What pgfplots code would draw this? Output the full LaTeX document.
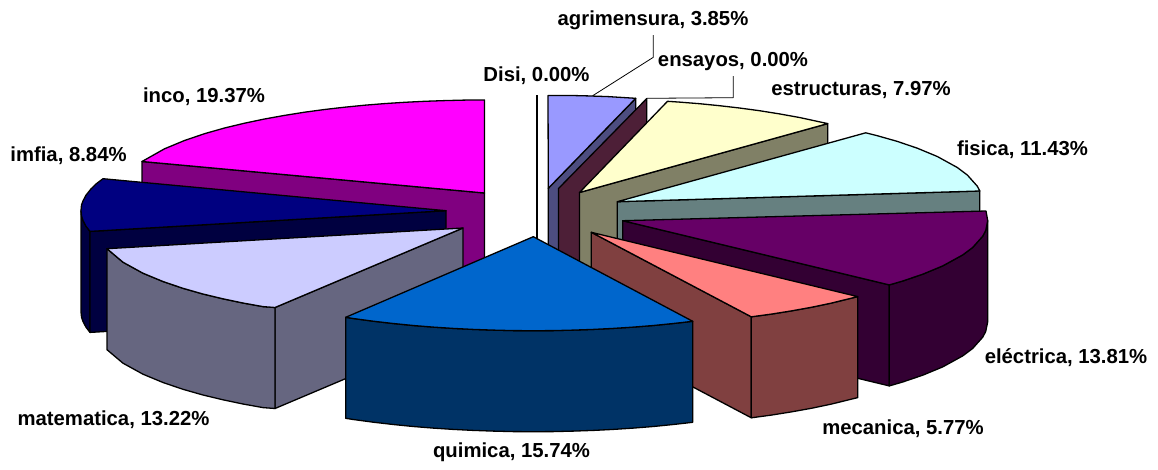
\documentclass[border=0pt]{standalone}
\usepackage{fontspec}
\usepackage{pgfplots}
\pgfplotsset{compat=1.18}
\setmainfont{Liberation Sans}
\definecolor{incoT}{HTML}{FF00FF}\definecolor{incoS}{HTML}{800080}
\definecolor{imfT}{HTML}{000080}\definecolor{imfS}{HTML}{000040}
\definecolor{matT}{HTML}{CCCCFF}\definecolor{matS}{HTML}{666680}
\definecolor{quiT}{HTML}{0066CC}\definecolor{quiS}{HTML}{003366}
\definecolor{mecT}{HTML}{FF8080}\definecolor{mecS}{HTML}{804040}
\definecolor{eleT}{HTML}{660066}\definecolor{eleS}{HTML}{330033}
\definecolor{fisT}{HTML}{CCFFFF}\definecolor{fisS}{HTML}{668080}
\definecolor{estT}{HTML}{FFFFCC}\definecolor{estS}{HTML}{808066}
\definecolor{agrT}{HTML}{9999FF}\definecolor{agrS}{HTML}{4D4D80}
\definecolor{ensS}{HTML}{4D1F37}
\tikzset{lab/.style={anchor=base,inner sep=0pt,font=\fontsize{20.3}{24}\selectfont\bfseries}}
\begin{document}
\begin{tikzpicture}
\begin{axis}[
    scale only axis,
    width=1158pt,
    height=469pt,
    xmin=0,xmax=1158,
    ymin=0,ymax=469,
    y dir=reverse,
    hide axis,
    clip=false,
    every axis plot/.append style={no markers,draw=black,line width=1.3pt,line join=round},
    ]
% keeps the page at the full frame, hide axis drops the axis box from it
\path (axis cs:0,0) rectangle (axis cs:1158,469);
% inco
\addplot[fill=incoS] coordinates {(142,161.5)(484.5,193)(484.5,294)(142,262.5)} --cycle;
\addplot[fill=incoT] coordinates {(484.5,193)(142,161.5)(164.5,148.8)(184.5,140.5)(204.5,133.7)(224.5,128)(244.5,123.2)(264.5,119)(284.5,115.4)(304.5,112.2)(324.5,109.5)(344.5,107.2)(364.5,105.2)(384.5,103.6)(404.5,102.3)(424.5,101.3)(444.5,100.6)(464.5,100.1)(484.5,100)} --cycle;
% imfia
\addplot[fill=imfS] coordinates {(81,210.7)(81.5,216)(83,220.5)(86,226.2)(90,231.4)(90,332.4)(86,327.2)(83,321.5)(81.5,317)(81,311.7)} --cycle;
\addplot[fill=imfS] coordinates {(90,231.4)(446,210.7)(446,311.7)(90,332.4)} --cycle;
\addplot[fill=imfT] coordinates {(446,210.7)(103,178.7)(96,184)(91,188.9)(86,195.2)(83,200.9)(81.5,205)(81,210.7)(81.5,216)(83,220.5)(86,226.2)(90,231.4)} --cycle;
% matematica
\addplot[fill=matS] coordinates {(275,307.5)(463,228)(463,329)(275,408.5)} --cycle;
\addplot[fill=matS] coordinates {(107,248.7)(123,262.2)(143,273.2)(163,281.5)(183,288.3)(203,294)(223,298.8)(243,303)(263,306.6)(275,307.5)(275,408.5)(263,407.6)(243,404)(223,399.8)(203,395)(183,389.3)(163,382.5)(143,374.2)(123,363.2)(107,349.7)} --cycle;
\addplot[fill=matT] coordinates {(463,228)(107,248.7)(123,262.2)(143,273.2)(163,281.5)(183,288.3)(203,294)(223,298.8)(243,303)(263,306.6)(275,307.5)} --cycle;
% agrimensura
\addplot[fill=agrS] coordinates {(548.3,188.3)(635.7,98.3)(635.7,199.3)(548.3,289.3)} --cycle;
\addplot[fill=agrT] coordinates {(548.3,188.3)(548,95.5)(568,95.4)(588,95.9)(608,96.6)(635.7,98.3)} --cycle;
% ensayos
\addplot[fill=ensS] coordinates {(558.5,188.5)(646.7,98.6)(646.7,199.6)(558.5,289.5)} --cycle;
% estructuras
\addplot[fill=estS] coordinates {(579.5,192.5)(827.7,123.6)(827.7,224.6)(579.5,293.5)} --cycle;
\addplot[fill=estT] coordinates {(579.5,192.5)(667.5,101.3)(679.5,102.1)(699.5,103.7)(719.5,105.7)(739.5,108)(759.5,110.7)(779.5,113.9)(799.5,117.5)(827.7,123.6)} --cycle;
% fisica
\addplot[fill=fisS] coordinates {(617.3,201.7)(979.8,191)(979.8,292)(617.3,302.7)} --cycle;
\addplot[fill=fisT] coordinates {(617.3,201.7)(865.7,132.8)(877.3,135.7)(897.3,141.4)(917.3,148.2)(937.3,156.5)(957.3,167.5)(967.3,175)(977.3,186.2)(979.8,191)} --cycle;
% electrica
\addplot[fill=eleS] coordinates {(622.7,220.7)(889.3,284.9)(889.3,385.9)(622.7,321.7)} --cycle;
\addplot[fill=eleS] coordinates {(889.3,284.9)(902.7,281)(922.7,274.2)(942.7,265.9)(962.7,254.9)(972.7,247.4)(982.7,236.2)(985.7,230.5)(987.7,220.7)(987.7,321.7)(985.7,331.5)(982.7,337.2)(972.7,348.4)(962.7,355.9)(942.7,366.9)(922.7,375.2)(902.7,382)(889.3,385.9)} --cycle;
\addplot[fill=eleT] coordinates {(622.7,220.7)(889.3,284.9)(902.7,281)(922.7,274.2)(942.7,265.9)(962.7,254.9)(972.7,247.4)(982.7,236.2)(985.7,230.5)(987.7,220.7)(986,211)} --cycle;
% mecanica
\addplot[fill=mecS] coordinates {(591.3,232.3)(751.3,316.8)(751.3,417.8)(591.3,333.3)} --cycle;
\addplot[fill=mecS] coordinates {(751.3,316.8)(771.3,314.1)(791.3,310.9)(811.3,307.3)(831.3,303.1)(857.7,296.6)(857.7,397.6)(831.3,404.1)(811.3,408.3)(791.3,411.9)(771.3,415.1)(751.3,417.8)} --cycle;
\addplot[fill=mecT] coordinates {(591.3,232.3)(751.3,316.8)(771.3,314.1)(791.3,310.9)(811.3,307.3)(831.3,303.1)(857.7,296.6)} --cycle;
% Disi
\addplot[draw=black,line width=1.5pt] coordinates {(537,95)(537,240)};
% quimica
\addplot[fill=quiS] coordinates {(345.7,317.3)(353.3,318.5)(373.3,321.2)(393.3,323.5)(413.3,325.5)(433.3,327.1)(453.3,328.4)(473.3,329.4)(493.3,330.1)(513.3,330.6)(533.3,330.7)(553.3,330.6)(573.3,330.1)(593.3,329.4)(613.3,328.4)(633.3,327.1)(653.3,325.5)(673.3,323.5)(692.7,321.3)(692.7,422.3)(673.3,424.5)(653.3,426.5)(633.3,428.1)(613.3,429.4)(593.3,430.4)(573.3,431.1)(553.3,431.6)(533.3,431.7)(513.3,431.6)(493.3,431.1)(473.3,430.4)(453.3,429.4)(433.3,428.1)(413.3,426.5)(393.3,424.5)(373.3,422.2)(353.3,419.5)(345.7,418.3)} --cycle;
\addplot[fill=quiT] coordinates {(533.3,236.7)(345.7,317.3)(353.3,318.5)(373.3,321.2)(393.3,323.5)(413.3,325.5)(433.3,327.1)(453.3,328.4)(473.3,329.4)(493.3,330.1)(513.3,330.6)(533.3,330.7)(553.3,330.6)(573.3,330.1)(593.3,329.4)(613.3,328.4)(633.3,327.1)(653.3,325.5)(673.3,323.5)(692.7,321.3)} --cycle;
% leader lines
\addplot[draw=black,line width=0.8pt] coordinates {(653.3,35)(653.3,57.3)(592.7,95.7)};
\addplot[draw=black,line width=0.8pt] coordinates {(733.3,76)(733.3,97.7)(646.7,98.3)};
% labels
\node[lab] at (axis cs:653,25) {agrimensura, 3.85\%};
\node[lab] at (axis cs:733,66.7) {ensayos, 0.00\%};
\node[lab] at (axis cs:536.5,81) {Disi, 0.00\%};
\node[lab] at (axis cs:861,95) {estructuras, 7.97\%};
\node[lab] at (axis cs:1022.5,155.5) {fisica, 11.43\%};
\node[lab] at (axis cs:1066,363.5) {eléctrica, 13.81\%};
\node[lab] at (axis cs:903,434) {mecanica, 5.77\%};
\node[lab] at (axis cs:511.5,457) {quimica, 15.74\%};
\node[lab] at (axis cs:113.5,425) {matematica, 13.22\%};
\node[lab] at (axis cs:68.5,161.7) {imfia, 8.84\%};
\node[lab] at (axis cs:204,102.7) {inco, 19.37\%};
\end{axis}
\end{tikzpicture}
\end{document}
